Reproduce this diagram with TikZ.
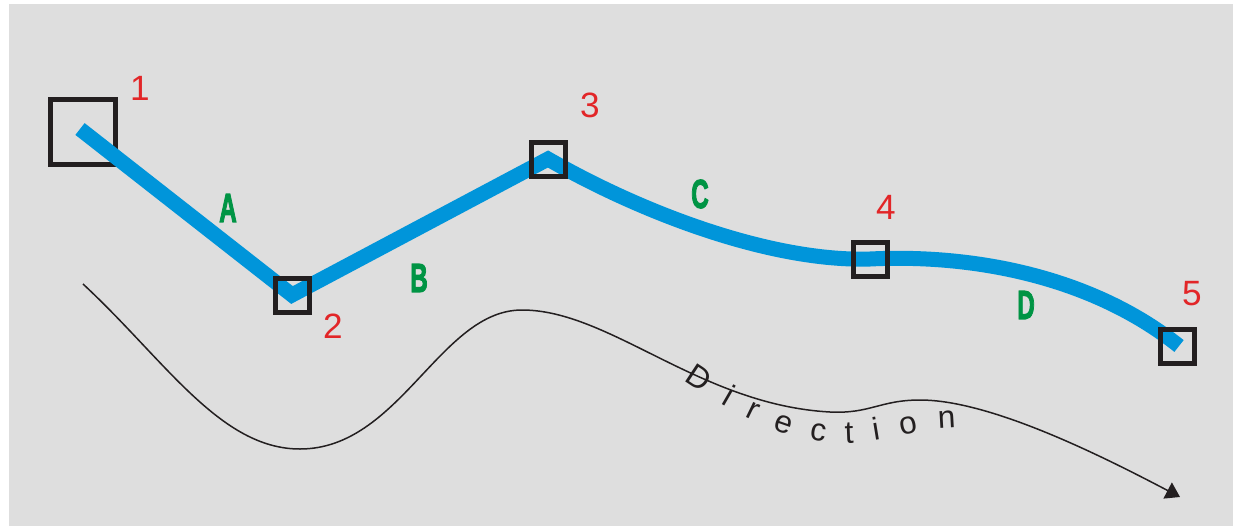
\documentclass[tikz,border=0pt]{standalone}
\usepackage{fontspec}
\setmainfont{Liberation Sans}
\newfontfamily\heavyfont[FakeBold=3]{Liberation Sans Bold}
\usetikzlibrary{positioning,arrows.meta,decorations.text}

\definecolor{trackblue}{RGB}{0,149,218}
\definecolor{numred}{RGB}{226,38,40}
\definecolor{seggreen}{RGB}{0,148,68}
\definecolor{bggray}{RGB}{222,222,222}
\definecolor{boxblack}{RGB}{35,31,32}

\begin{document}
\begin{tikzpicture}[x=0.2mm,y=-0.2mm,
      wpt/.style={draw=boxblack,line width=1mm,minimum size=6.8mm,inner sep=0pt},
      num/.style={text=numred,font=\fontsize{20}{24}\selectfont},
      seg/.style={text=seggreen,font=\fontsize{23}{26}\selectfont\heavyfont},
      track/.style={draw=trackblue,line width=3mm},
      dirline/.style={draw=boxblack,line width=0.3mm,-{Triangle[length=2.8mm,width=3.6mm]}}]
    % background
    \useasboundingbox (0,0) rectangle (1236,526);
    \fill[bggray] (9,4) rectangle (1233,526);
    % waypoints
    \node[wpt,minimum size=13mm] (w1) at (83,132) {};
    \draw[track] (80,129) -- (292,295) coordinate (v2) -- (548,159) coordinate (v3)
      .. controls (640,212) and (770,262) .. (870,259) coordinate (v4)
      .. controls (970,254) and (1090,275) .. (1179,346) coordinate (v5);
    \node[wpt] (w2) at (v2) {};
    \node[wpt] (w3) at (v3) {};
    \node[wpt] (w4) at (v4) {};
    \node[wpt] (w5) at (1177,346) {};
    % numbers
    \node[num] (n1) at (140,88) {1};
    \node[num] (n2) at (333,326) {2};
    \node[num] (n3) at (590,105) {3};
    \node[num] (n4) at (886,207) {4};
    \node[num] (n5) at (1192,294) {5};
    % segment letters
    \node[seg] (sa) at (228,208) {\scalebox{0.6}[1]{A}};
    \node[seg] (sb) at (419,278) {\scalebox{0.6}[1]{B}};
    \node[seg] (sc) at (700,194) {\scalebox{0.6}[1]{C}};
    \node[seg] (sd) at (1026,305) {\scalebox{0.6}[1]{D}};
    % direction curve
    \coordinate (dstart) at (83,284);
    \coordinate (dend) at (1180,497);
    \draw[dirline] (dstart) .. controls (165,360) and (220,449) .. (300,449)
      .. controls (400,449) and (440,310) .. (522,310)
      .. controls (610,310) and (700,405) .. (830,412)
      .. controls (870,414) and (880,400) .. (920,400)
      .. controls (990,400) and (1100,455) .. (dend);
    \path[decorate,decoration={text along path,text color=boxblack,
        text={|\fontsize{18}{22}\selectfont|Direction},text align=fit to path}]
      (684,380) .. controls (750,425) and (800,445) .. (850,443)
      .. controls (890,441) and (920,428) .. (956,428);
  \end{tikzpicture}
\end{document}
